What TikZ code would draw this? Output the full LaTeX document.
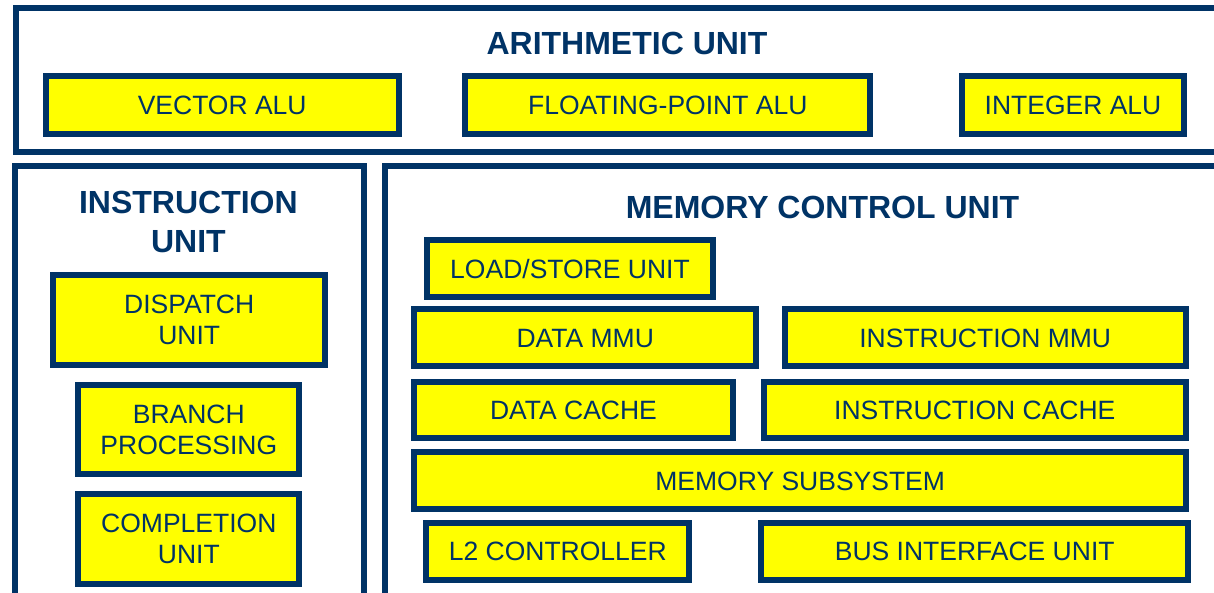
\documentclass[tikz,border=0pt]{standalone}
\usepackage{fontspec}
\setmainfont{Liberation Sans}
\definecolor{navy}{RGB}{0,51,102}
\definecolor{boxyellow}{RGB}{255,255,0}
\begin{document}
\begin{tikzpicture}[x=1pt,y=-1pt,
  cont/.style={draw=navy, line width=6pt, fill=white, inner sep=0pt},
  ubox/.style={draw=navy, line width=6pt, fill=boxyellow, inner sep=0pt, text=navy,
               font=\fontsize{26.5}{31.7}\selectfont, align=center},
  one/.style={text height=19pt, text depth=0pt},
  ttl/.style={text=navy, font=\bfseries\fontsize{32}{39.3}\selectfont, align=center, inner sep=0pt},
  ttlone/.style={text height=22.9pt, text depth=0pt}]
\useasboundingbox (0,0) rectangle (1214,593);
\fill[white] (0,0) rectangle (1214,593);
% containers
\node[cont, minimum width=1213.7pt, minimum height=144pt] (arith) at (623.2,80.3) {};
\node[cont, minimum width=349pt, minimum height=454.3pt] (instr) at (189.2,392.9) {};
\node[cont, minimum width=845.3pt, minimum height=453.7pt] (mcu) at (807.4,393.2) {};
% titles
\node[ttl, ttlone] (arithT) at (627,43) {ARITHMETIC UNIT};
\node[ttl] (instrT) at (188.4,221.7) {INSTRUCTION\\UNIT};
\node[ttl, ttlone] (mcuT) at (822.5,207) {MEMORY CONTROL UNIT};
% arithmetic unit
\node[ubox, one, minimum width=353pt, minimum height=57.4pt] (valu) at (222.2,105) {VECTOR ALU};
\node[ubox, one, minimum width=405pt, minimum height=57.4pt] (fpalu) at (667.8,105) {FLOATING-POINT ALU};
\node[ubox, one, minimum width=221.4pt, minimum height=57.4pt] (ialu) at (1073,105) {INTEGER ALU};
% instruction unit
\node[ubox, minimum width=272.3pt, minimum height=89.4pt] (disp) at (189.2,320) {DISPATCH\\UNIT};
\node[ubox, minimum width=221pt, minimum height=89pt] (branch) at (188.8,429.8) {BRANCH\\PROCESSING};
\node[ubox, minimum width=221pt, minimum height=89.7pt] (compl) at (188.8,538.8) {COMPLETION\\UNIT};
% memory control unit
\node[ubox, one, minimum width=285.4pt, minimum height=56.7pt] (ls) at (570,268.7) {LOAD/STORE UNIT};
\node[ubox, one, minimum width=342.3pt, minimum height=57.3pt] (dmmu) at (585.2,337.7) {DATA MMU};
\node[ubox, one, minimum width=401pt, minimum height=57.3pt] (immu) at (985.2,337.7) {INSTRUCTION MMU};
\node[ubox, one, minimum width=319pt, minimum height=56.3pt] (dcache) at (573.5,409.8) {DATA CACHE};
\node[ubox, one, minimum width=421.7pt, minimum height=56.3pt] (icache) at (974.8,409.8) {INSTRUCTION CACHE};
\node[ubox, one, minimum width=772.3pt, minimum height=56.4pt] (memsub) at (800.2,480.5) {MEMORY SUBSYSTEM};
\node[ubox, one, minimum width=263pt, minimum height=56.7pt] (l2) at (557.8,551.3) {L2 CONTROLLER};
\node[ubox, one, minimum width=426.7pt, minimum height=56.7pt] (biu) at (974.7,551.3) {BUS INTERFACE UNIT};
\end{tikzpicture}
\end{document}
